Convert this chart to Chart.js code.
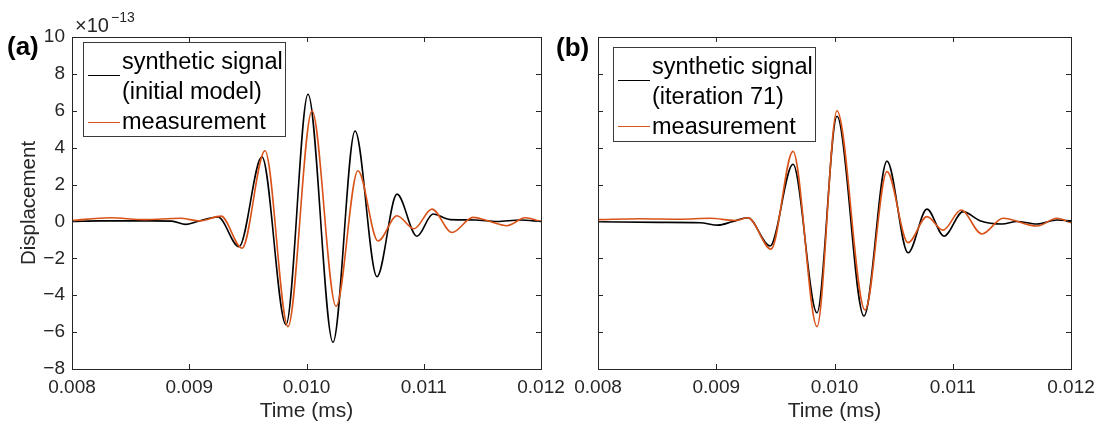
<!DOCTYPE html>
<html>
<head>
<meta charset="utf-8">
<script src="https://cdn.jsdelivr.net/npm/chart.js@4.4.1/dist/chart.umd.min.js"></script>
<style>
  html, body { margin: 0; padding: 0; background: #fff; }
  #wrap { position: relative; width: 1099px; height: 426px; background: #fff; overflow: hidden;
          font-family: 'Liberation Sans', Arial, sans-serif; color: #262626; }
  .cv { position: absolute; top: 0; height: 426px; }
  .txt { position: absolute; white-space: nowrap; }
  .tag { font-weight: bold; font-size: 26px; line-height: 26px; color: #000; }
  .legend { position: absolute; width: 203px; height: 95px; border: 1px solid #3a3a3a; background: #fff; box-sizing: border-box; }
  .legend .ln { position: absolute; left: 4px; width: 32px; height: 0; border-top: 1.5px solid #000; }
  .legend .lab { position: absolute; left: 38px; font-size: 23.5px; line-height: 30px; color: #000; }
</style>
</head>
<body>
<div id="wrap">
  <div class="cv" style="left:0;width:580px"><canvas id="chartA"></canvas></div>
  <div class="cv" style="left:556px;width:543px"><canvas id="chartB"></canvas></div>

  <div class="txt tag" style="left:7px;top:33px">(a)</div>
  <div class="txt tag" style="left:556px;top:34px">(b)</div>

  <div class="txt" style="left:75px;top:15px;font-size:20px;line-height:20px">×10</div>
  <div class="txt" style="left:111px;top:10px;font-size:14px;line-height:14px">−13</div>

  <div class="legend" style="left:83px;top:42px">
    <div class="ln" style="top:32px"></div>
    <div class="ln" style="top:79px;border-color:#D95319"></div>
    <div class="lab" style="top:3px">synthetic signal<br>(initial model)<br>measurement</div>
  </div>
  <div class="legend" style="left:613px;top:47px">
    <div class="ln" style="top:32px"></div>
    <div class="ln" style="top:78px;border-color:#D95319"></div>
    <div class="lab" style="top:3px">synthetic signal<br>(iteration 71)<br>measurement</div>
  </div>
</div>

<script>
// time axis in ms, displacement in units of 1e-13
var xTicks = [0.008, 0.009, 0.010, 0.011, 0.012];
var yTicks = [-8, -6, -4, -2, 0, 2, 4, 6, 8, 10];

// (a) initial model
var tSynA  = [0.00800, 0.00824, 0.00867, 0.00885, 0.00897, 0.00907, 0.009245, 0.009424, 0.00962, 0.009825, 0.010013, 0.010226, 0.010414, 0.010601, 0.010772, 0.010942, 0.011079, 0.011224, 0.011437, 0.011625, 0.011821, 0.01200];
var ySynA  = [0.0, 0.03, 0.03, 0.02, -0.16, 0.0, 0.24, -1.37, 3.5, -5.6, 6.9, -6.55, 4.9, -3.0, 1.48, -0.8, 0.4, 0.1, 0.08, 0.0, 0.08, 0.0];
var tMeasA = [0.00800, 0.008324, 0.008623, 0.008921, 0.009092, 0.009271, 0.00945, 0.009646, 0.009842, 0.010047, 0.010252, 0.010439, 0.01061, 0.010772, 0.010917, 0.01107, 0.011241, 0.01142, 0.011565, 0.01171, 0.011864, 0.01200];
var yMeasA = [0.05, 0.2, 0.1, 0.17, 0.03, 0.29, -1.45, 3.83, -5.7, 6.0, -4.6, 2.75, -1.06, 0.31, -0.4, 0.67, -0.6, 0.22, 0.0, -0.23, 0.2, 0.0];

// (b) iteration 71
var tSynB  = [0.00800, 0.008524, 0.008863, 0.009015, 0.009133, 0.009268, 0.009455, 0.009649, 0.009852, 0.010021, 0.010249, 0.010444, 0.010622, 0.010782, 0.010926, 0.011087, 0.01123, 0.011417, 0.011543, 0.011713, 0.011882, 0.01200];
var ySynB  = [-0.02, -0.05, -0.07, -0.2, -0.02, 0.2, -1.33, 3.1, -4.95, 5.7, -5.13, 3.27, -1.7, 0.67, -0.8, 0.53, 0.04, -0.14, 0.0, -0.14, 0.08, 0.03];
var tMeasB = [0.00800, 0.008355, 0.008693, 0.008947, 0.009159, 0.009268, 0.009463, 0.009649, 0.009852, 0.010021, 0.010258, 0.010444, 0.010622, 0.010782, 0.010918, 0.01107, 0.011247, 0.011425, 0.011713, 0.011882, 0.01200];
var yMeasB = [0.1, 0.15, 0.12, 0.17, 0.05, 0.2, -1.5, 3.8, -5.7, 6.0, -4.8, 2.7, -1.15, 0.26, -0.47, 0.62, -0.68, 0.17, -0.25, 0.17, -0.07];

var fontFamily = "'Liberation Sans', Arial, sans-serif";
var axisColor = '#262626';
var redColor = '#D95319';

function toPoints(ts, ys) {
  return ts.map(function (t, i) { return { x: t, y: ys[i] }; });
}

function minusSign(v) {
  return v < 0 ? '\u2212' + Math.abs(v) : String(v);
}

// MATLAB style box with inward ticks on all four sides
var boxPlugin = {
  id: 'matlabBox',
  afterDraw: function (chart) {
    var ctx = chart.ctx, a = chart.chartArea;
    var x = chart.scales.x, y = chart.scales.y;
    var len = 5;
    ctx.save();
    ctx.strokeStyle = axisColor;
    ctx.lineWidth = 1;
    ctx.strokeRect(Math.round(a.left) + 0.5, Math.round(a.top) + 0.5,
                   Math.round(a.right - a.left), Math.round(a.bottom - a.top));
    ctx.beginPath();
    xTicks.forEach(function (v) {
      var px = Math.round(x.getPixelForValue(v)) + 0.5;
      ctx.moveTo(px, a.bottom); ctx.lineTo(px, a.bottom - len);
      ctx.moveTo(px, a.top); ctx.lineTo(px, a.top + len);
    });
    yTicks.forEach(function (v) {
      var py = Math.round(y.getPixelForValue(v)) + 0.5;
      ctx.moveTo(a.left, py); ctx.lineTo(a.left + len, py);
      ctx.moveTo(a.right, py); ctx.lineTo(a.right - len, py);
    });
    ctx.stroke();
    ctx.restore();
  }
};

function makeChart(canvasId, tSyn, ySyn, tMeas, yMeas, showY, yWidth, padRight) {
  return new Chart(document.getElementById(canvasId), {
    type: 'line',
    data: {
      datasets: [
        {
          label: 'measurement',
          data: toPoints(tMeas, yMeas),
          borderColor: redColor,
          borderWidth: 1.6,
          pointRadius: 0,
          fill: false,
          cubicInterpolationMode: 'monotone'
        },
        {
          label: 'synthetic signal',
          data: toPoints(tSyn, ySyn),
          borderColor: '#000000',
          borderWidth: 1.6,
          pointRadius: 0,
          fill: false,
          cubicInterpolationMode: 'monotone'
        }
      ]
    },
    options: {
      responsive: true,
      maintainAspectRatio: false,
      animation: false,
      layout: { padding: { left: 0, top: 37, right: padRight, bottom: 0 } },
      plugins: { legend: { display: false }, tooltip: { enabled: false } },
      scales: {
        x: {
          type: 'linear',
          min: 0.008,
          max: 0.012,
          afterBuildTicks: function (s) { s.ticks = xTicks.map(function (v) { return { value: v }; }); },
          afterFit: function (s) { s.height = 57; s.paddingLeft = 0; s.paddingRight = 0; },
          grid: { display: false, drawTicks: false },
          border: { display: false },
          ticks: {
            padding: 7,
            color: axisColor,
            maxRotation: 0,
            autoSkip: false,
            font: { family: fontFamily, size: 19 },
            callback: function (v) { return Number(v).toFixed(3); }
          },
          title: {
            display: true,
            text: 'Time (ms)',
            color: axisColor,
            font: { family: fontFamily, size: 21 },
            padding: { top: 2, bottom: 2 }
          }
        },
        y: {
          type: 'linear',
          min: -8,
          max: 10,
          afterBuildTicks: function (s) { s.ticks = yTicks.map(function (v) { return { value: v }; }); },
          afterFit: function (s) { s.width = yWidth; s.paddingTop = 0; s.paddingBottom = 0; },
          grid: { display: false, drawTicks: false },
          border: { display: false },
          ticks: {
            display: showY,
            padding: 7,
            color: axisColor,
            font: { family: fontFamily, size: 19 },
            callback: function (v) { return minusSign(v); }
          },
          title: {
            display: showY,
            text: 'Displacement',
            color: axisColor,
            font: { family: fontFamily, size: 20.5 },
            padding: { top: 17, bottom: 0 }
          }
        }
      }
    },
    plugins: [boxPlugin]
  });
}

makeChart('chartA', tSynA, ySynA, tMeasA, yMeasA, true, 72, 39);
makeChart('chartB', tSynB, ySynB, tMeasB, yMeasB, false, 42, 28);
</script>
</body>
</html>
